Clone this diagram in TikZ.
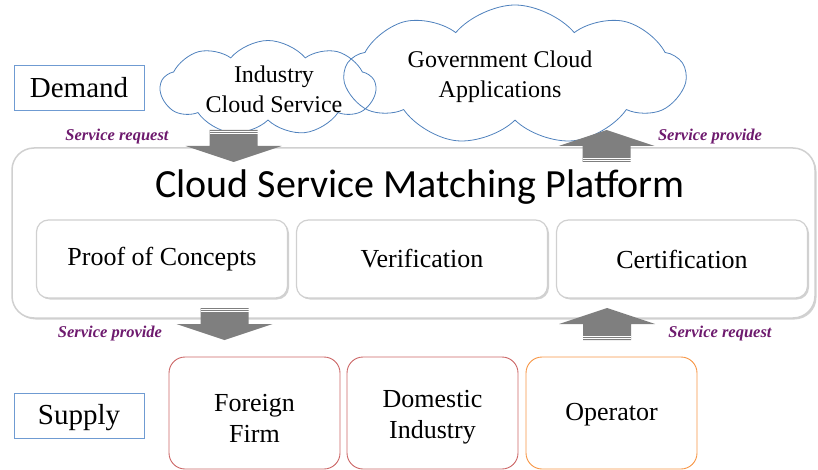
\documentclass[tikz,border=0pt]{standalone}
\usepackage{fontspec}
\setmainfont{Liberation Serif}
\newfontfamily\titlefont{Carlito}
\usetikzlibrary{shapes.symbols,shadows}

\definecolor{cloudblue}{HTML}{4F81BD}
\definecolor{boxblue}{HTML}{6F9BD2}
\definecolor{firmred}{HTML}{CC6666}
\definecolor{oporange}{HTML}{F79646}
\definecolor{arrowgray}{HTML}{7F7F7F}
\definecolor{framegray}{HTML}{D0D0D0}
\definecolor{labelpurple}{HTML}{6E1A6E}

\tikzset{
  rolebox/.style={draw=boxblue, line width=0.8pt, minimum width=130pt, minimum height=45pt},
  rolefont/.style={font=\fontsize{29}{32}\selectfont},
  cloudnode/.style={cloud, draw=cloudblue, line width=0.8pt, cloud puffs=9, cloud puff arc=100,
    inner sep=0pt},
  cloudtext/.style={align=center, font=\fontsize{24}{30}\selectfont},
  stagebox/.style={draw=framegray, line width=1.2pt, rounded corners=12pt, fill=white,
    minimum width=251pt, minimum height=78pt, font=\fontsize{26}{30}\selectfont,
    drop shadow={opacity=0.35, shadow xshift=1.5pt, shadow yshift=-1.5pt}},
  supplybox/.style={draw=firmred, line width=0.9pt, rounded corners=16pt, fill=white,
    minimum width=171pt, minimum height=112pt},
  supplytext/.style={align=center, font=\fontsize{26}{31}\selectfont},
  flowlabel/.style={text=labelpurple, font=\fontsize{16.5}{20}\selectfont\bfseries\itshape},
  blkdown/.pic={
    \fill[arrowgray] (-24,0) -- (24,0) -- (24,16) -- (48,16) -- (0,32) -- (-48,16) -- (-24,16) -- cycle;
    \draw[white, line width=0.7pt] (-24,1.6) -- (24,1.6) (-24,3.6) -- (24,3.6);
  }
}

\begin{document}
\begin{tikzpicture}[x=1pt, y=-1pt]
  \useasboundingbox (0,0) rectangle (818,470);

  % demand side
  \node[rolebox] (demand) at (79,87.5) {};
  \node[rolefont] (demandtxt) at (79,87.5) {Demand};
  \node[cloudnode, aspect=2.26, minimum width=215pt, minimum height=95pt] (industry) at (268,88) {};
  \node[cloudtext] (industrytxt) at (274,89) {Industry\\Cloud Service};
  \node[cloudnode, aspect=2.43, minimum width=340pt, minimum height=140pt] (government) at (515,75) {};
  \node[cloudtext] (governmenttxt) at (500,77) {Government Cloud\\Applications};

  % platform
  \node[draw=framegray, line width=1.5pt, rounded corners=22pt, fill=white,
    minimum width=803pt, minimum height=170pt,
    drop shadow={opacity=0.35, shadow xshift=1.5pt, shadow yshift=-1.5pt}] (platform) at (413.5,233) {};
  \node[font=\titlefont\fontsize{40}{44}\selectfont] (title) at (420,187) {Cloud Service Matching Platform};
  \node[stagebox] (poc) at (162,259) {Proof of Concepts};
  \node[stagebox] (verify) at (422,259) {Verification};
  \node[stagebox] (certify) at (682,259) {Certification};

  % supply side
  \node[rolebox] (supply) at (79,415.5) {};
  \node[rolefont] (supplytxt) at (79,418) {Supply};
  \node[supplybox] (foreign) at (254.5,413) {};
  \node[supplybox] (domestic) at (432.5,413) {};
  \node[supplybox, draw=oporange] (operator) at (611.5,413) {};
  \node[supplytext] (foreigntxt) at (254.5,418) {Foreign\\Firm};
  \node[supplytext] (domestictxt) at (432.5,417) {Domestic\\Industry};
  \node[supplytext] (operatortxt) at (611.5,415) {Operator};

  % flows
  \pic at (233.5,130) {blkdown};
  \pic[yscale=-1] at (606.5,162) {blkdown};
  \pic at (224.5,308) {blkdown};
  \pic[yscale=-1] at (607,340) {blkdown};

  \node[flowlabel] (req1) at (117,137) {Service request};
  \node[flowlabel] (prov1) at (710,137) {Service provide};
  \node[flowlabel] (prov2) at (110,334) {Service provide};
  \node[flowlabel] (req2) at (720,334) {Service request};
\end{tikzpicture}
\end{document}
